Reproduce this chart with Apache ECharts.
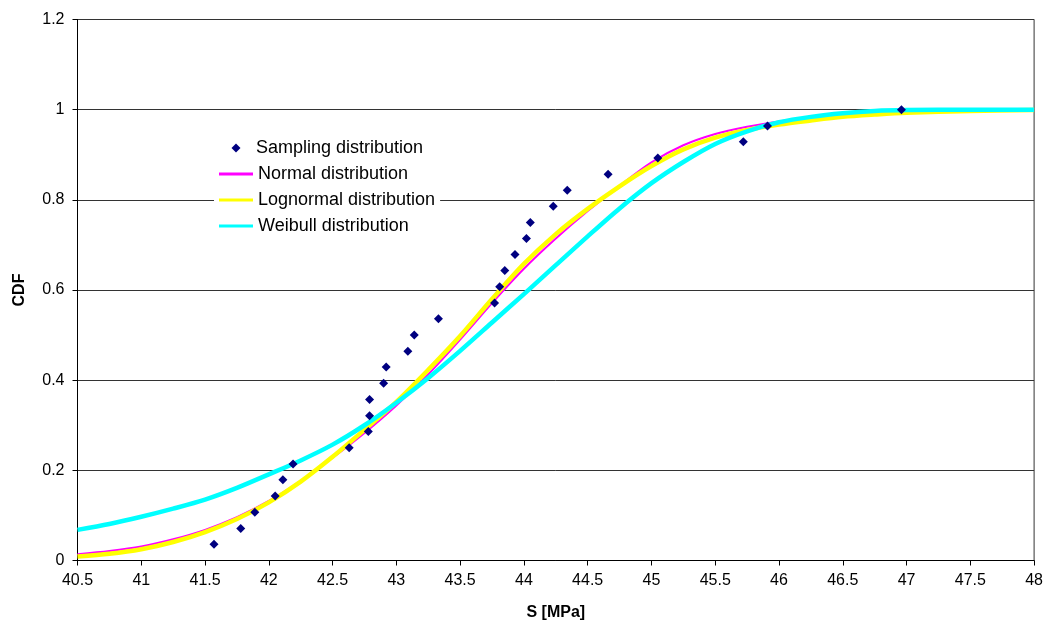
<!DOCTYPE html>
<html>
<head>
<meta charset="utf-8">
<title>CDF of S</title>
<script src="https://cdn.jsdelivr.net/npm/echarts@6/dist/echarts.min.js"></script>
<style>
  html, body { margin: 0; padding: 0; background: #fff; }
  #chart { width: 1046px; height: 630px; }
</style>
</head>
<body>
<div id="chart"></div>
<script>
// Measured samples: strength S [MPa] and empirical CDF rank
const sampleS = [41.57, 41.78, 41.89, 42.05, 42.11, 42.19, 42.63, 42.78, 42.79, 42.79,
                 42.90, 42.92, 43.09, 43.14, 43.33, 43.77, 43.81, 43.85, 43.93, 44.02,
                 44.05, 44.23, 44.34, 44.66, 45.05, 45.72, 45.91, 46.96];
const sampleCDF = [0.036, 0.071, 0.107, 0.143, 0.179, 0.214, 0.250, 0.286, 0.321, 0.357,
                   0.393, 0.429, 0.464, 0.500, 0.536, 0.571, 0.607, 0.643, 0.679, 0.714,
                   0.750, 0.786, 0.821, 0.857, 0.893, 0.929, 0.964, 1.000];

// Fitted distribution curves, tabulated on a common S grid
const curveS = [40.5, 40.75, 41.0, 41.25, 41.5, 41.75, 42.0, 42.25, 42.5, 42.75,
                43.0, 43.25, 43.5, 43.75, 44.0, 44.25, 44.5, 44.75, 45.0, 45.25,
                45.5, 45.75, 46.0, 46.25, 46.5, 46.75, 47.0, 47.5, 48.0];
const normalCDF = [0.014, 0.021, 0.031, 0.047, 0.068, 0.096, 0.132, 0.177, 0.228, 0.283,
                   0.344, 0.413, 0.490, 0.571, 0.647, 0.714, 0.775, 0.831, 0.883, 0.921,
                   0.946, 0.962, 0.974, 0.984, 0.991, 0.995, 0.997, 0.999, 1.000];
const lognormalCDF = [0.009, 0.015, 0.025, 0.041, 0.063, 0.092, 0.129, 0.175, 0.230, 0.290,
                      0.352, 0.423, 0.498, 0.580, 0.658, 0.724, 0.780, 0.830, 0.875, 0.912,
                      0.938, 0.955, 0.967, 0.976, 0.984, 0.989, 0.993, 0.997, 0.999];
const weibullCDF = [0.068, 0.081, 0.097, 0.115, 0.135, 0.161, 0.191, 0.222, 0.257, 0.300,
                    0.350, 0.405, 0.465, 0.528, 0.591, 0.655, 0.719, 0.781, 0.837, 0.884,
                    0.924, 0.952, 0.972, 0.984, 0.992, 0.997, 0.999, 1.000, 1.000];

const xTicks = { min: 40.5, max: 48, step: 0.5 };
const yTicks = { min: 0, max: 1.2, step: 0.2 };

const seriesNames = ['Sampling distribution', 'Normal distribution',
                     'Lognormal distribution', 'Weibull distribution'];

const zip = (xs, ys) => xs.map((x, i) => [x, ys[i]]);

const FONT = '"Liberation Sans", Arial, sans-serif';
const legendText = { fontFamily: FONT, fontSize: 18, color: '#000', lineHeight: 20 };

const chart = echarts.init(document.getElementById('chart'), null, { renderer: 'canvas' });

const curveSeries = (name, values, color, width, z) => ({
  name: name,
  type: 'line',
  data: zip(curveS, values),
  smooth: 0.3,
  symbol: 'none',
  z: z,
  lineStyle: { color: color, width: width },
  itemStyle: { color: color },
  emphasis: { disabled: true }
});

chart.setOption({
  backgroundColor: '#ffffff',
  animation: false,
  grid: {
    left: 77.5, right: 11.5, top: 19.5, bottom: 69.5,
    show: true, borderColor: '#333', borderWidth: 1, backgroundColor: 'transparent'
  },
  legend: [
    {
      // marker entry for the measured samples
      data: [{ name: seriesNames[0], icon: 'diamond' }],
      orient: 'vertical',
      left: 231.5,
      top: 138,
      padding: 0,
      itemWidth: 9,
      itemHeight: 9,
      textStyle: Object.assign({}, legendText, { padding: [0, 0, 0, 10.5] }),
      selectedMode: false
    },
    {
      // line entries for the fitted distributions
      data: seriesNames.slice(1).map(n => ({ name: n, icon: 'rect' })),
      orient: 'vertical',
      left: 214,
      top: 160,
      padding: [4, 5, 6, 5],
      backgroundColor: '#ffffff',
      itemWidth: 34,
      itemHeight: 3,
      itemGap: 6,
      textStyle: legendText,
      selectedMode: false
    }
  ],
  xAxis: {
    type: 'value',
    min: xTicks.min, max: xTicks.max, interval: xTicks.step,
    name: 'S [MPa]',
    nameLocation: 'middle',
    nameGap: 44,
    nameTextStyle: { fontFamily: FONT, fontSize: 16, fontWeight: 'bold', color: '#000' },
    axisLine: { show: true, onZero: false, lineStyle: { color: '#000', width: 1 } },
    axisTick: { show: true, inside: false, length: 5, lineStyle: { color: '#000' } },
    axisLabel: { fontFamily: FONT, fontSize: 16, color: '#000', margin: 12 },
    splitLine: { show: false }
  },
  yAxis: {
    type: 'value',
    min: yTicks.min, max: yTicks.max, interval: yTicks.step,
    name: 'CDF',
    nameLocation: 'middle',
    nameGap: 50,
    nameRotate: 90,
    nameTextStyle: { fontFamily: FONT, fontSize: 16, fontWeight: 'bold', color: '#000' },
    axisLine: { show: true, onZero: false, lineStyle: { color: '#000', width: 1 } },
    axisTick: { show: true, inside: false, length: 5, lineStyle: { color: '#000' } },
    axisLabel: { fontFamily: FONT, fontSize: 16, color: '#000', margin: 13 },
    splitLine: { show: true, lineStyle: { color: '#333', width: 1 } }
  },
  series: [
    {
      name: seriesNames[0],
      type: 'scatter',
      data: zip(sampleS, sampleCDF),
      symbol: 'diamond',
      symbolSize: 9,
      z: 5,
      itemStyle: { color: '#000080', opacity: 1 },
      emphasis: { disabled: true }
    },
    curveSeries(seriesNames[1], normalCDF, '#ff00ff', 2, 2),
    curveSeries(seriesNames[2], lognormalCDF, '#ffff00', 4.5, 3),
    curveSeries(seriesNames[3], weibullCDF, '#00ffff', 4.5, 4)
  ]
});
</script>
</body>
</html>
